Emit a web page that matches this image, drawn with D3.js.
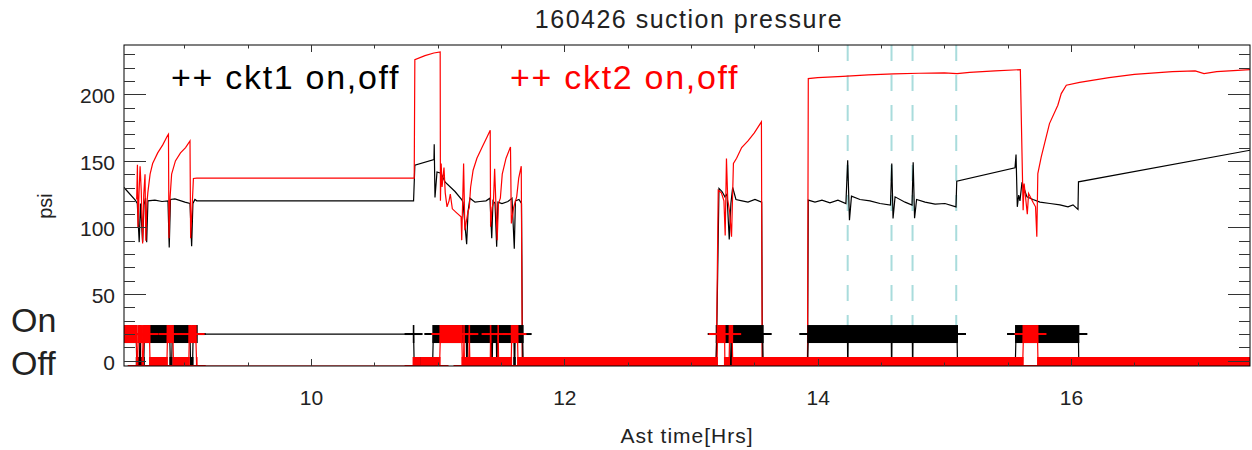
<!DOCTYPE html>
<html><head><meta charset="utf-8">
<script src="https://cdn.jsdelivr.net/npm/d3@7"></script>
<style>
body{margin:0;background:#fff}
svg{display:block;font-family:"Liberation Sans",Arial,Helvetica,sans-serif}
</style>
</head><body>
<svg id="chart" width="1252" height="450"></svg>
<script>
// ---------------- data ----------------
const chartTitle = "160426 suction pressure";
const xLabel = "Ast time[Hrs]";
const yLabel = "psi";
const xDomain = [8.524, 17.413];
const yDomain = [-4, 237];
const xMajorTicks = [10, 12, 14, 16];
const xMinorTicks = [9, 9.5, 10.5, 11, 11.5, 12.5, 13, 13.5, 14.5, 15, 15.5, 16.5, 17];
const yMajorTicks = [0, 50, 100, 150, 200];
const yMinorTicks = [10, 20, 30, 40, 60, 70, 80, 90, 110, 120, 130, 140, 160, 170, 180, 190, 210, 220, 230];
const legendLabels = ["++ ckt1 on,off", "++ ckt2 on,off"];
const stateLabels = ["On", "Off"];
const onLevel = 20;
const offLevel = -4;
const markerTimes = [14.237, 14.583, 14.749, 15.094];

// ckt1 suction pressure [time(hr), psi]
const ckt1Psi = [[8.524,130],[8.613,120.5],[8.629,118],[8.644,89],[8.654,118],[8.671,89],[8.682,117],[8.694,122],[8.703,89],[8.713,120],[8.768,120.5],[8.824,119.5],[8.871,120],[8.881,85],[8.891,121],[8.926,121.5],[9.005,119],[9.045,118],[9.058,86],[9.068,118],[9.084,121],[9.098,120],
[10.81,120],[10.82,146.8],[10.971,151],[10.973,162.5],[10.979,122.5],[10.995,141.7],[11.026,140.8],[11.06,134],[11.137,127],[11.19,121],[11.2,119],[11.229,87.5],[11.24,112],[11.255,122],[11.295,119],[11.334,119.5],[11.382,120],[11.413,122],[11.427,92],[11.437,120],[11.453,118],[11.466,85.5],[11.476,119],[11.508,118],[11.555,119.5],[11.587,122],[11.605,84],[11.614,120],[11.642,121],[11.662,118],[11.67,0],
[13.2,0],[13.221,129.3],[13.245,127],[13.268,123],[13.284,125],[13.302,91],[13.315,118],[13.329,130],[13.355,121],[13.403,120],[13.45,119],[13.505,121],[13.558,119],[13.564,0],
[13.92,0],[13.926,120.5],[13.979,119],[14.034,120.5],[14.097,118.5],[14.16,120.5],[14.223,118],[14.237,150.5],[14.251,105.5],[14.267,123.5],[14.334,121],[14.413,120],[14.492,118],[14.575,116.8],[14.585,148],[14.595,106.8],[14.611,123],[14.69,119],[14.745,116.8],[14.754,149],[14.765,107],[14.781,121],[14.848,119],[14.927,117.5],[15.005,118],[15.092,115.5],[15.098,134.8],
[15.558,144.8],[15.566,154.8],[15.576,115.5],[15.587,124.3],[15.597,120],[15.613,134],[15.652,123],[15.7,121],[15.755,119],[15.834,118],[15.913,117],[15.976,115.5],[16.016,117],[16.055,113.5],[16.059,134.3],[17.413,158]];

// ckt2 suction pressure [time(hr), psi]
const ckt2Psi = [[8.624,121],[8.63,147],[8.634,100],[8.642,124],[8.651,146],[8.66,128],[8.671,88],[8.68,125],[8.69,140],[8.696,90],[8.705,118],[8.712,126],[8.73,140],[8.75,148],[8.79,156],[8.83,162],[8.868,169],[8.875,170],[8.879,92],[8.888,123],[8.9,140],[8.93,150],[8.97,156],[9.01,160],[9.045,165],[9.05,92],[9.06,112],[9.072,136.8],[9.098,137],
[10.815,137],[10.82,226],[10.9,229],[10.97,231],[11.02,231.8],[11.022,120],[11.028,148],[11.035,130.5],[11.05,145],[11.06,126],[11.074,115.5],[11.09,120],[11.1,125],[11.116,114],[11.15,111],[11.185,108],[11.19,90.5],[11.205,148],[11.215,98],[11.24,112],[11.25,115],[11.26,130],[11.28,143],[11.31,152],[11.35,160],[11.39,168],[11.415,173],[11.418,100.5],[11.43,115],[11.44,118],[11.45,144],[11.47,90.5],[11.48,118],[11.495,122],[11.51,140],[11.54,152],[11.575,160.5],[11.582,103],[11.6,115],[11.624,123],[11.64,137],[11.66,146],[11.668,0],
[13.2,0],[13.215,128],[13.24,126],[13.26,120],[13.27,94],[13.28,151.8],[13.29,121],[13.305,112],[13.32,93],[13.335,148],[13.36,152],[13.4,160],[13.45,165],[13.5,171],[13.556,179.3],[13.562,0],
[13.92,0],[13.926,211.8],[14.0,212.5],[14.2,213.5],[14.4,214.5],[14.6,215.3],[14.8,215.8],[15.0,216],[15.1,215.5],[15.2,216.5],[15.4,217.5],[15.6,218.5],[15.622,113],[15.63,133],[15.655,110],[15.665,125.5],[15.7,119],[15.72,115.5],[15.73,93],[15.738,140.5],[15.765,153],[15.83,178],[15.896,191.8],[15.923,200.5],[15.963,206.8],[16.068,209],[16.3,212.5],[16.5,215],[16.8,217],[16.98,217.5],[17.05,215.5],[17.15,217],[17.413,218.5]];

// on/off runs [tStart, tEnd, level]
const ckt1Runs = [[8.524,8.62,20],[8.625,8.645,-4],[8.65,8.652,20],[8.655,8.68,-4],[8.685,8.885,20],[8.89,8.9,-4],[8.905,9.045,20],[9.05,9.065,-4],[9.07,9.098,20],
[10.81,10.81,20],[10.815,10.96,-4],[10.966,11.226,20],[11.229,11.233,-4],[11.236,11.424,20],[11.427,11.431,-4],[11.434,11.463,20],[11.466,11.47,-4],[11.473,11.602,20],[11.605,11.609,-4],[11.612,11.671,20],
[11.675,13.198,-4],[13.203,13.308,20],[13.31,13.318,-4],[13.322,13.566,20],[13.57,13.92,-4],[13.926,14.235,20],[14.237,14.239,-4],[14.241,14.581,20],[14.583,14.585,-4],[14.587,14.747,20],[14.749,14.751,-4],[14.753,15.1,20],
[15.104,15.56,-4],[15.566,16.058,20],[16.062,17.413,-4]];
const ckt2Runs = [[8.524,8.622,20],[8.626,8.63,-4],[8.638,8.666,20],[8.67,8.674,-4],[8.682,8.725,20],[8.73,8.862,-4],[8.868,8.91,20],[8.915,9.035,-4],[9.04,9.09,20],[9.098,9.098,-4],
[10.81,10.855,-4],[10.87,11.015,-4],[11.022,11.19,20],[11.196,11.204,-4],[11.208,11.208,20],[11.212,11.245,-4],[11.25,11.25,20],[11.255,11.415,-4],[11.418,11.418,20],[11.422,11.474,-4],[11.478,11.478,20],[11.482,11.58,-4],[11.585,11.63,20],
[11.635,13.205,-4],[13.21,13.265,20],[13.268,13.3,-4],[13.305,13.325,20],[13.33,15.618,-4],[15.625,15.735,20],[15.74,17.413,-4]];

// ---------------- chart ----------------
const plot = {left: 124, right: 1250, top: 45, bottom: 366};
const svg = d3.select("#chart");
const x = d3.scaleLinear().domain(xDomain).range([plot.left, plot.right]);
const y = d3.scaleLinear().domain(yDomain).range([plot.bottom, plot.top]);

svg.append("defs").append("clipPath").attr("id", "clip")
  .append("rect").attr("x", plot.left).attr("y", plot.top)
  .attr("width", plot.right - plot.left).attr("height", plot.bottom - plot.top);

const g = svg.append("g").attr("clip-path", "url(#clip)");

// cyan dashed markers
g.selectAll("line.mark").data(markerTimes).join("line")
  .attr("x1", d => x(d)).attr("x2", d => x(d))
  .attr("y1", plot.top).attr("y2", y(onLevel) - 9)
  .attr("stroke", "#a9dcdc").attr("stroke-width", 2).attr("stroke-dasharray", "16,14");

const line = d3.line().x(d => x(d[0])).y(d => y(d[1]));

g.append("path").datum(ckt1Psi).attr("d", line)
  .attr("fill", "none").attr("stroke", "#000").attr("stroke-width", 1.2);
g.append("path").datum(ckt2Psi).attr("d", line)
  .attr("fill", "none").attr("stroke", "#ff0000").attr("stroke-width", 1.2);

function drawRuns(runs, color) {
  const pts = [];
  runs.forEach(r => { pts.push([r[0], r[2]]); pts.push([r[1], r[2]]); });
  g.append("path").datum(pts).attr("d", line)
    .attr("fill", "none").attr("stroke", color).attr("stroke-width", 1.2);
  const grp = g.append("g");
  grp.selectAll("rect").data(runs.filter(r => r[1] > r[0])).join("rect")
    .attr("x", r => x(r[0]) - 1)
    .attr("width", r => x(r[1]) - x(r[0]) + 2)
    .attr("y", r => y(r[2]) - 9).attr("height", 18)
    .attr("fill", color);
  grp.selectAll("line.v").data(runs.filter(r => r[1] === r[0])).join("line")
    .attr("class", "v")
    .attr("x1", r => x(r[0])).attr("x2", r => x(r[0]))
    .attr("y1", r => y(r[2]) - 9).attr("y2", r => y(r[2]) + 9)
    .attr("stroke", color).attr("stroke-width", 1.6);
  grp.selectAll("line.h").data(runs).join("line")
    .attr("class", "h")
    .attr("x1", r => x(r[0]) - 9).attr("x2", r => x(r[1]) + 9)
    .attr("y1", r => y(r[2])).attr("y2", r => y(r[2]))
    .attr("stroke", color).attr("stroke-width", 2);
}
drawRuns(ckt1Runs, "#000");
drawRuns(ckt2Runs, "#ff0000");

// axes box
svg.append("rect").attr("x", plot.left).attr("y", plot.top)
  .attr("width", plot.right - plot.left).attr("height", plot.bottom - plot.top)
  .attr("fill", "none").attr("stroke", "#000").attr("stroke-width", 1);

const tickColor = "#333";
const ticksG = svg.append("g");
[[yMajorTicks, 22], [yMinorTicks, 11]].forEach(([vals, len]) => {
  ticksG.selectAll(null).data(vals).join("line")
    .attr("x1", plot.left).attr("x2", plot.left + len)
    .attr("y1", d => Math.round(y(d)) + 0.5).attr("y2", d => Math.round(y(d)) + 0.5)
    .attr("stroke", tickColor).attr("stroke-width", 1);
  ticksG.selectAll(null).data(vals).join("line")
    .attr("x1", plot.right).attr("x2", plot.right - len)
    .attr("y1", d => Math.round(y(d)) + 0.5).attr("y2", d => Math.round(y(d)) + 0.5)
    .attr("stroke", tickColor).attr("stroke-width", 1);
});
[[xMajorTicks, 7], [xMinorTicks, 3.5]].forEach(([vals, len]) => {
  ticksG.selectAll(null).data(vals).join("line")
    .attr("x1", d => Math.round(x(d)) + 0.5).attr("x2", d => Math.round(x(d)) + 0.5)
    .attr("y1", plot.bottom).attr("y2", plot.bottom - len)
    .attr("stroke", tickColor).attr("stroke-width", 1);
  ticksG.selectAll(null).data(vals).join("line")
    .attr("x1", d => Math.round(x(d)) + 0.5).attr("x2", d => Math.round(x(d)) + 0.5)
    .attr("y1", plot.top).attr("y2", plot.top + len)
    .attr("stroke", tickColor).attr("stroke-width", 1);
});

// tick labels
const txt = "#222";
const axisBottom = d3.axisBottom(x).tickValues(xMajorTicks).tickSize(0).tickFormat(d3.format("d"));
svg.append("g").attr("transform", `translate(0,${plot.bottom})`).call(axisBottom)
  .call(a => a.select(".domain").remove())
  .selectAll("text").attr("font-size", 21).attr("fill", txt)
  .attr("font-family", '"Liberation Sans",Arial,sans-serif').attr("dy", "1.7em");
svg.append("g").selectAll("text").data(yMajorTicks).join("text")
  .attr("x", plot.left - 9).attr("y", d => y(d) + 9)
  .attr("text-anchor", "end").attr("font-size", 21).attr("fill", txt)
  .text(d => d);

// titles
svg.append("text").attr("x", 689).attr("y", 28).attr("text-anchor", "middle")
  .attr("font-size", 25).attr("letter-spacing", 1.5).attr("fill", txt).text(chartTitle);
svg.append("text").attr("x", 687).attr("y", 443).attr("text-anchor", "middle")
  .attr("font-size", 21).attr("letter-spacing", 1).attr("fill", txt).text(xLabel);
svg.append("text").attr("transform", "translate(52,206) rotate(-90)").attr("text-anchor", "middle")
  .attr("font-size", 20).attr("fill", txt).text(yLabel);

// legend
svg.append("text").attr("x", 171).attr("y", 89).attr("font-size", 34).attr("letter-spacing", 1.7).attr("fill", "#000").text(legendLabels[0]);
svg.append("text").attr("x", 510).attr("y", 89).attr("font-size", 34).attr("letter-spacing", 1.7).attr("fill", "#ff0000").text(legendLabels[1]);

// On / Off labels
svg.append("text").attr("x", 11).attr("y", 332).attr("font-size", 34).attr("fill", txt).text(stateLabels[0]);
svg.append("text").attr("x", 11).attr("y", 375).attr("font-size", 34).attr("fill", txt).text(stateLabels[1]);
</script>
</body></html>
